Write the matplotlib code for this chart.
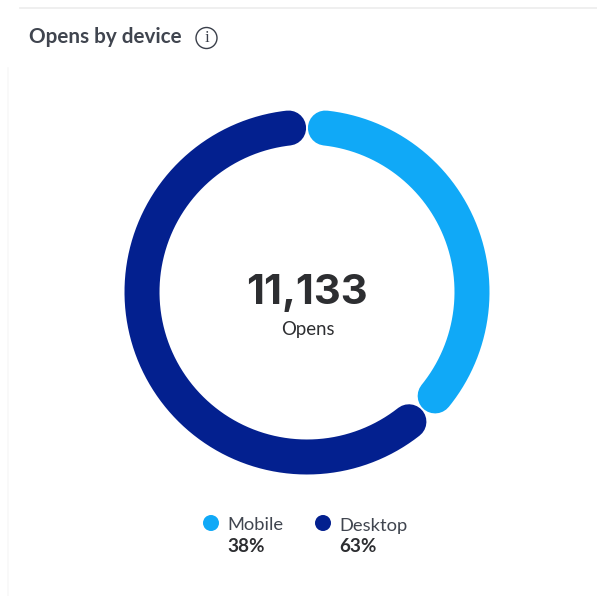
import numpy as np
import matplotlib
matplotlib.use('Agg')
from matplotlib import pyplot as plt
from matplotlib.patches import Circle

plt.rcParams['font.family'] = ['Lato', 'DejaVu Sans']

categories = ['Mobile', 'Desktop']
shares = [38, 63]
share_labels = ['38%', '63%']
colors = ['#10a9f7', '#03208f']
total_label = '11,133'
center_label = 'Opens'
title = 'Opens by device'

text_dark = '#2d2e31'
text_grey = '#40454f'

fig = plt.figure(figsize=(5.97, 5.96), dpi=100, facecolor='white')
ax = fig.add_axes([0, 0, 1, 1])
ax.set_xlim(0, 597)
ax.set_ylim(596, 0)
ax.axis('off')

# card edges
ax.plot([20, 597], [8, 8], color='#ececec', lw=1.2)
ax.plot([8, 8], [68, 596], color='#f8f8f8', lw=1.2)

ax.text(29, 37, title, fontsize=14.9, fontweight='bold', color=text_grey, va='center', ha='left')

# info icon
ax.add_patch(Circle((206.5, 38), 10.5, fill=False, ec='#3a3f4a', lw=1.0))
ax.text(206.5, 38.5, 'i', fontsize=12, family='Liberation Serif', color='#3a3f4a', va='center', ha='center')

# ring, clockwise from the top, round caps pulled in so a gap shows between segments
cx, cy = 307, 292
radius = 165
ring_px = 35
cap_deg = 6.4
start = 0.0
for share, color in zip(shares, colors):
    sweep = share / sum(shares) * 360
    theta = np.radians(np.linspace(start + cap_deg, start + sweep - cap_deg, 300))
    ax.plot(cx + radius * np.sin(theta), cy - radius * np.cos(theta), color=color,
            lw=ring_px * 72 / 100, solid_capstyle='round')
    start += sweep

# Inter has a narrow 1, which keeps the big number tight
ax.text(cx - 0.5, 293.5, total_label, fontsize=30, family='Inter', fontweight='bold', color=text_dark,
        va='center', ha='center')
ax.text(cx + 0.5, 330, center_label, fontsize=13.4, color=text_dark, va='center', ha='center')

# legend
dot_x = [211, 323]
for x, name, label, color in zip(dot_x, categories, share_labels, colors):
    ax.add_patch(Circle((x, 523), 8, fc=color, ec='none'))
    ax.text(x + 16.5, 525.5, name, fontsize=13.2, color=text_grey, va='center', ha='left')
    ax.text(x + 16.5, 546.5, label, fontsize=13.6, fontweight='bold', color=text_dark, va='center', ha='left')

fig.savefig('out.png', dpi=100, facecolor='white')
